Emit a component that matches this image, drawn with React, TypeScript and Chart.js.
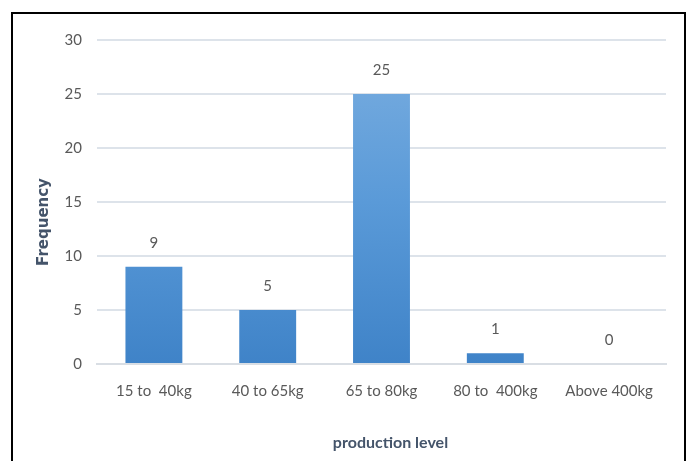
import React, { useEffect, useRef } from "react";
import { Chart, registerables } from "chart.js";

Chart.register(...registerables);

const categories = ["15 to  40kg", "40 to 65kg", "65 to 80kg", "80 to  400kg", "Above 400kg"];
const frequencies = [9, 5, 25, 1, 0];
const yTicks = [0, 5, 10, 15, 20, 25, 30];
const xTitle = "production level";
const yTitle = "Frequency";

const TICK_FONT = "'Liberation Sans Narrow', Lato, sans-serif";

const valueLabels = {
  id: "valueLabels",
  afterDatasetsDraw(chart: any) {
    const ctx = chart.ctx;
    const meta = chart.getDatasetMeta(0);
    ctx.save();
    ctx.fillStyle = "#595959";
    ctx.font = `15px ${TICK_FONT}`;
    ctx.textAlign = "center";
    ctx.textBaseline = "middle";
    meta.data.forEach((bar: any, i: number) => {
      ctx.fillText(String(frequencies[i]), bar.x, bar.y - 24);
    });
    ctx.restore();
  },
};

const axisTitles = {
  id: "axisTitles",
  afterDraw(chart: any) {
    const ctx = chart.ctx;
    const area = chart.chartArea;
    ctx.save();
    ctx.fillStyle = "#44546a";
    ctx.textAlign = "center";
    ctx.textBaseline = "middle";
    // x title
    ctx.font = `bold 16px ${TICK_FONT}`;
    ctx.fillText(xTitle, (area.left + area.right) / 2 + 9, area.bottom + 79);
    // y title
    ctx.translate(area.left - 53, (area.top + area.bottom) / 2 + 20);
    ctx.rotate(-Math.PI / 2);
    ctx.font = `bold 15px 'DejaVu Sans', sans-serif`;
    ctx.fillText(yTitle, 0, 0);
    ctx.restore();
  },
};

export default function App() {
  const ref = useRef<HTMLCanvasElement>(null);
  useEffect(() => {
    const chart = new Chart(ref.current!, {
      type: "bar",
      data: {
        labels: categories,
        datasets: [
          {
            data: frequencies,
            backgroundColor: (c: any) => {
              const area = c.chart.chartArea;
              if (!area) return "#5b9bd5";
              const g = c.chart.ctx.createLinearGradient(0, area.top, 0, area.bottom);
              g.addColorStop(0, "#7aaee0");
              g.addColorStop(0.5, "#5a9ad8");
              g.addColorStop(1, "#3f83c8");
              return g;
            },
            categoryPercentage: 0.5,
            barPercentage: 1,
          },
        ],
      },
      options: {
        animation: false,
        responsive: false,
        layout: { padding: { left: 30, right: 26, top: 40, bottom: 8 } },
        plugins: { legend: { display: false }, tooltip: { enabled: false } },
        scales: {
          x: {
            afterFit: (s: any) => {
              s.height = 89;
            },
            grid: { display: false },
            border: { display: true, color: "#d9dee4", width: 2 },
            ticks: { color: "#595959", font: { family: TICK_FONT, size: 15 }, padding: 10, maxRotation: 0 },
          },
          y: {
            min: 0,
            max: 30,
            afterFit: (s: any) => {
              s.width = 67;
            },
            afterBuildTicks: (s: any) => {
              s.ticks = yTicks.map((v) => ({ value: v }));
            },
            grid: { color: "#dde3ea", lineWidth: 2, drawTicks: false },
            border: { display: false },
            ticks: { color: "#595959", font: { family: TICK_FONT, size: 15 }, padding: 15 },
          },
        },
      },
      plugins: [valueLabels, axisTitles],
    });
    return () => chart.destroy();
  }, []);
  return (
    <div style={{ position: "fixed", left: 0, top: 0, width: 692, height: 461, background: "#fff", overflow: "hidden" }}>
      <div
        style={{
          position: "absolute",
          left: 11,
          top: 12,
          width: 675,
          height: 470,
          border: "2px solid #000",
          boxSizing: "border-box",
        }}
      />
      <canvas ref={ref} width={692} height={461} style={{ position: "absolute", left: 0, top: 0 }} />
    </div>
  );
}
